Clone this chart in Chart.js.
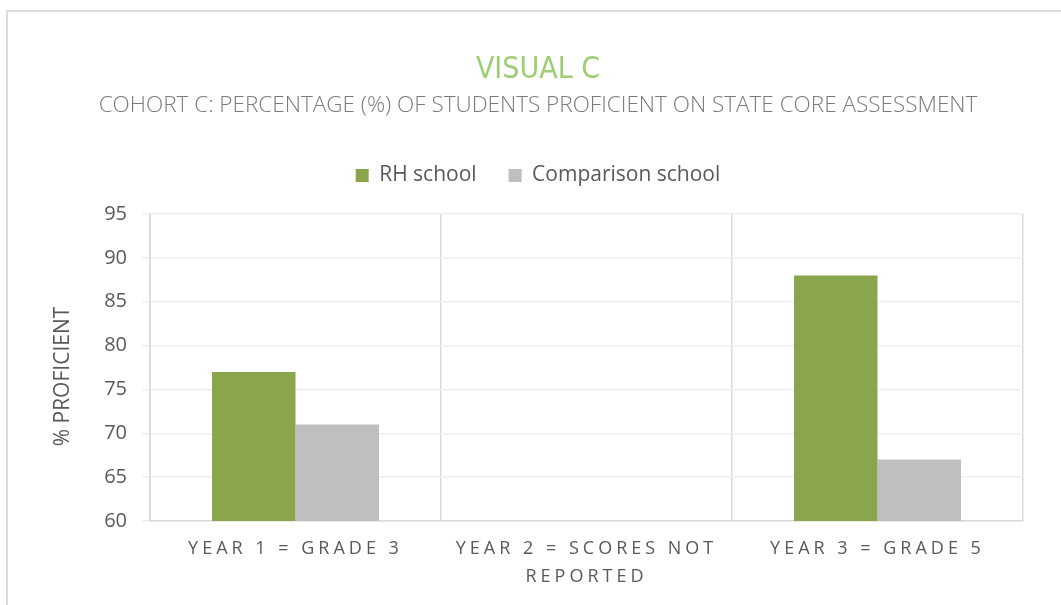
<!DOCTYPE html>
<html>
<head>
<meta charset="utf-8">
<script src="https://cdn.jsdelivr.net/npm/chart.js@4/dist/chart.umd.min.js"></script>
<style>
  html, body { margin: 0; padding: 0; background: #ffffff; overflow: hidden; }
  #wrap { position: absolute; left: 0; top: 0; width: 1061px; height: 605px; }
  #frame { position: absolute; left: 6px; top: 10px; width: 1200px; height: 800px;
           border-left: 2px solid #DCDCDC; border-top: 2px solid #DCDCDC; pointer-events: none; }
</style>
</head>
<body>
<div id="wrap"><canvas id="c"></canvas></div>
<div id="frame"></div>
<script>
// ---- data ----
const chartTitle = 'VISUAL C';
const chartSubtitle = 'COHORT C: PERCENTAGE (%) OF STUDENTS PROFICIENT ON STATE CORE ASSESSMENT';
const categories = ['YEAR 1 = GRADE 3', ['YEAR 2 = SCORES NOT', 'REPORTED'], 'YEAR 3 = GRADE 5'];
const seriesNames = ['RH school', 'Comparison school'];
const rhSchool = [77, null, 88];
const comparisonSchool = [71, null, 67];
const yAxisTitle = '% PROFICIENT';
const yMin = 60;
const yMax = 95;
const yStep = 5;

// ---- styles ----
const GREEN = '#8AA64C';
const GRAY = '#BFBFBF';
const TEXT = '#595959';
const SANS = "'Open Sans', 'Noto Sans', sans-serif";

const textTweaks = {
  id: 'textTweaks',
  beforeDraw(chart) {
    const s = chart.scales.x;
    if (s && !s._lsWrapped) {
      const orig = s.drawLabels;
      s.drawLabels = function (area) {
        const ctx = this.ctx;
        ctx.save();
        ctx.letterSpacing = '4px';
        orig.call(this, area);
        ctx.restore();
      };
      s._lsWrapped = true;
    }
    const y = chart.scales.y;
    if (y && !y._tWrapped) {
      const origT = y.drawTitle;
      y.drawTitle = function () {
        const ctx = this.ctx;
        ctx.save();
        ctx.translate(0, 9);
        origT.call(this);
        ctx.restore();
      };
      y._tWrapped = true;
    }
  }
};

function build() {
  new Chart(document.getElementById('c'), {
    type: 'bar',
    data: {
      labels: categories,
      datasets: [
        { label: seriesNames[0], data: rhSchool, backgroundColor: GREEN, borderWidth: 0, xAxisID: 'x', yAxisID: 'y' },
        { label: seriesNames[1], data: comparisonSchool, backgroundColor: GRAY, borderWidth: 0, xAxisID: 'x', yAxisID: 'y' }
      ]
    },
    plugins: [textTweaks],
    options: {
      responsive: true,
      maintainAspectRatio: false,
      animation: false,
      layout: { padding: { left: 15, right: 0, top: 0, bottom: 0 } },
      datasets: { bar: { categoryPercentage: 0.574, barPercentage: 1.0 } },
      plugins: {
        tooltip: { enabled: false },
        title: {
          display: true,
          text: chartTitle,
          color: '#9DCF72',
          font: { family: "'DejaVu Sans Condensed', 'Liberation Sans', sans-serif", size: 30, weight: 'normal', lineHeight: 1.2 },
          padding: { top: 52, bottom: 0 }
        },
        subtitle: {
          display: true,
          text: chartSubtitle,
          color: '#7A7A7A',
          font: { family: SANS, size: 22.5, weight: '300', lineHeight: 1.2 },
          padding: { top: 4, bottom: 14 }
        },
        legend: {
          display: true,
          position: 'top',
          labels: {
            color: TEXT,
            font: { family: SANS, size: 21 },
            boxWidth: 13,
            boxHeight: 13,
            padding: 32
          }
        }
      },
      scales: {
        x: {
          type: 'category',
          position: 'bottom',
          offset: true,
          grid: { display: true, offset: true, color: '#D9D9D9', lineWidth: 1.5, drawTicks: false },
          border: { display: true, color: '#D9D9D9', width: 1.5 },
          ticks: {
            color: TEXT,
            font: { family: SANS, size: 18, lineHeight: 1.55 },
            padding: 14,
            maxRotation: 0,
            minRotation: 0,
            autoSkip: false
          },
          afterFit(s) { s.height = 84; }
        },
        xTop: {
          type: 'category',
          position: 'top',
          display: true,
          grid: { display: false, drawTicks: false },
          border: { display: false },
          ticks: { display: false },
          afterFit(s) { s.height = 18; }
        },
        y: {
          type: 'linear',
          position: 'left',
          min: yMin,
          max: yMax,
          ticks: {
            stepSize: yStep,
            color: TEXT,
            font: { family: SANS, size: 20 },
            padding: 15
          },
          grid: { color: '#EFEFEF', lineWidth: 1.5, tickLength: 8, drawTicks: true },
          border: { display: true, color: '#D9D9D9', width: 1.5 },
          title: {
            display: true,
            text: yAxisTitle,
            color: TEXT,
            font: { family: SANS, size: 21, lineHeight: 1.2 },
            padding: { top: 35, bottom: 0 }
          },
          afterFit(s) { s.width = 135; }
        },
        yRight: {
          type: 'linear',
          position: 'right',
          display: true,
          grid: { display: false, drawTicks: false },
          border: { display: false },
          ticks: { display: false },
          afterFit(s) { s.width = 38; }
        }
      }
    }
  });
}

if (document.fonts && document.fonts.load) {
  Promise.all([
    document.fonts.load("18px 'Open Sans'"),
    document.fonts.load("300 18px 'Open Sans'"),
    document.fonts.load("30px 'DejaVu Sans Condensed'")
  ]).then(build, build);
} else {
  build();
}
</script>
</body>
</html>
